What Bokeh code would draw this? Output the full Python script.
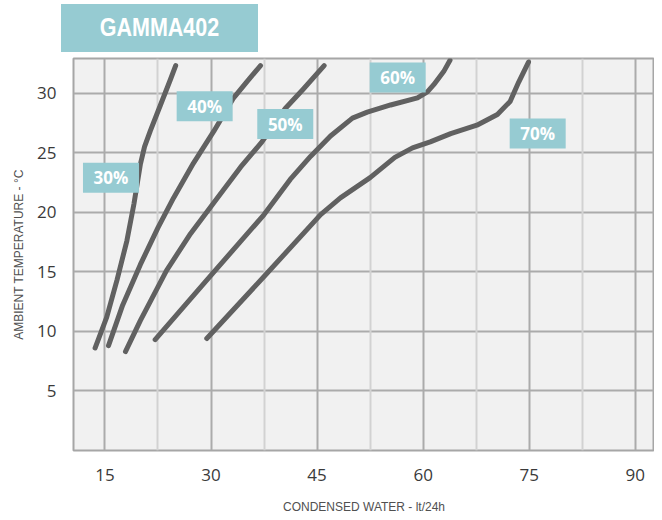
from bokeh.plotting import figure
from bokeh.models import FixedTicker, Grid, Div
from bokeh.layouts import column
from bokeh.embed import file_html
from bokeh.resources import INLINE
from bokeh.core.properties import value

title_text = "GAMMA402"
x_label = "CONDENSED WATER - lt/24h"
y_label = "AMBIENT TEMPERATURE - °C"
x_ticks = [15, 30, 45, 60, 75, 90]
x_minor = [22.5, 37.5, 52.5, 67.5, 82.5]
y_ticks = [5, 10, 15, 20, 25, 30]

# relative humidity curves: condensed water (lt/24h) vs ambient temperature (°C)
rh30_x = [13.6, 15.25, 16.7, 18.1, 19.1, 20.0, 20.6, 21.4, 22.85, 24.3, 25.0]
rh30_y = [8.6, 11.2, 14.3, 17.6, 20.7, 24.0, 25.5, 26.8, 29.0, 31.2, 32.3]
rh40_x = [15.5, 17.5, 20.0, 22.5, 24.7, 27.5, 30.4, 33.2, 35.0, 37.0]
rh40_y = [8.8, 12.2, 15.6, 18.7, 21.2, 24.1, 26.8, 29.6, 30.9, 32.3]
rh50_x = [17.9, 20.0, 23.7, 27.1, 31.8, 34.2, 37.2, 40.5, 43.0, 46.0]
rh50_y = [8.3, 10.9, 15.1, 18.2, 21.9, 23.8, 25.9, 28.7, 30.3, 32.3]
rh60_x = [22.1, 29.4, 37.5, 41.2, 44.1, 46.9, 50.0, 52.1, 55.4, 59.2, 60.6,
          61.5, 62.9, 63.8]
rh60_y = [9.3, 14.3, 19.8, 22.75, 24.7, 26.4, 27.9, 28.4, 29.0, 29.6, 30.1,
          30.7, 31.8, 32.75]
rh70_x = [29.4, 37.5, 45.5, 48.3, 52.5, 56.0, 58.5, 61.0, 63.9, 67.6, 70.5,
          72.3, 73.5, 74.9]
rh70_y = [9.4, 14.6, 19.8, 21.2, 22.9, 24.6, 25.4, 25.9, 26.6, 27.3, 28.2,
          29.3, 30.9, 32.6]

curve_names = ["30%", "40%", "50%", "60%", "70%"]
label_x = [15.85, 29.1, 40.5, 56.4, 76.2]
label_y = [22.9, 28.9, 27.4, 31.3, 26.6]

curves = [(rh30_x, rh30_y), (rh40_x, rh40_y), (rh50_x, rh50_y),
          (rh60_x, rh60_y), (rh70_x, rh70_y)]

TEAL = "#96cbd2"

title_div = Div(
    text=('<div style="width:197px;height:48px;background:%s;color:white;'
          'font-family:\'Liberation Sans\',sans-serif;'
          'font-weight:bold;font-size:25px;display:flex;align-items:center;'
          'justify-content:center;"><span style="display:inline-block;'
          'transform:scaleX(0.86);">%s</span></div>') % (TEAL, title_text),
    width=250, height=48, margin=(4, 0, 0, 61))

p = figure(width=654, height=464, x_range=(10.55, 92.72), y_range=(0, 32.9),
           output_backend="svg", toolbar_location=None,
           min_border_left=73, min_border_right=0, min_border_top=6,
           min_border_bottom=63,
           background_fill_color="#f1f1f1", border_fill_color="white",
           outline_line_color="#a6a6a6", outline_line_width=2)

p.xaxis.ticker = FixedTicker(ticks=x_ticks)
p.yaxis.ticker = FixedTicker(ticks=y_ticks)
p.xgrid.ticker = FixedTicker(ticks=x_ticks)
p.ygrid.ticker = FixedTicker(ticks=y_ticks)
for g in (p.xgrid, p.ygrid):
    g.grid_line_color = "#ababab"
    g.grid_line_width = 2
minor = Grid(dimension=0, ticker=FixedTicker(ticks=x_minor),
             grid_line_color="#d2d2d2", grid_line_width=2)
p.add_layout(minor, "center")

for ax in (p.xaxis, p.yaxis):
    ax.axis_line_color = None
    ax.major_tick_line_color = None
    ax.minor_tick_line_color = None
    ax.major_label_text_font = "Open Sans"
    ax.major_label_text_font_size = "17px"
    ax.major_label_text_color = "#3a3a3a"
    ax.axis_label_text_font = "Liberation Sans"
    ax.axis_label_text_font_size = "12px"
    ax.axis_label_text_font_style = "normal"
    ax.axis_label_text_color = "#505050"
p.xaxis.axis_label = x_label
p.yaxis.axis_label = y_label
p.xaxis.major_label_standoff = 12
p.xaxis.axis_label_standoff = 16
p.yaxis.major_label_standoff = 11
p.yaxis.axis_label_standoff = 8

for cx, cy in curves:
    p.line(cx, cy, line_color="#616161", line_width=5,
           line_join="round", line_cap="round")

p.rect(x=label_x, y=label_y, width=56, height=30, width_units="screen",
       height_units="screen", fill_color=TEAL, line_color=None)
p.text(x=label_x, y=label_y, text=curve_names, text_align="center",
       text_baseline="middle", text_color="white",
       text_font=value("Open Sans"), text_font_style="bold",
       text_font_size="17px")

layout = column(title_div, p, spacing=0)
open("out.html", "w").write(file_html(layout, INLINE))
